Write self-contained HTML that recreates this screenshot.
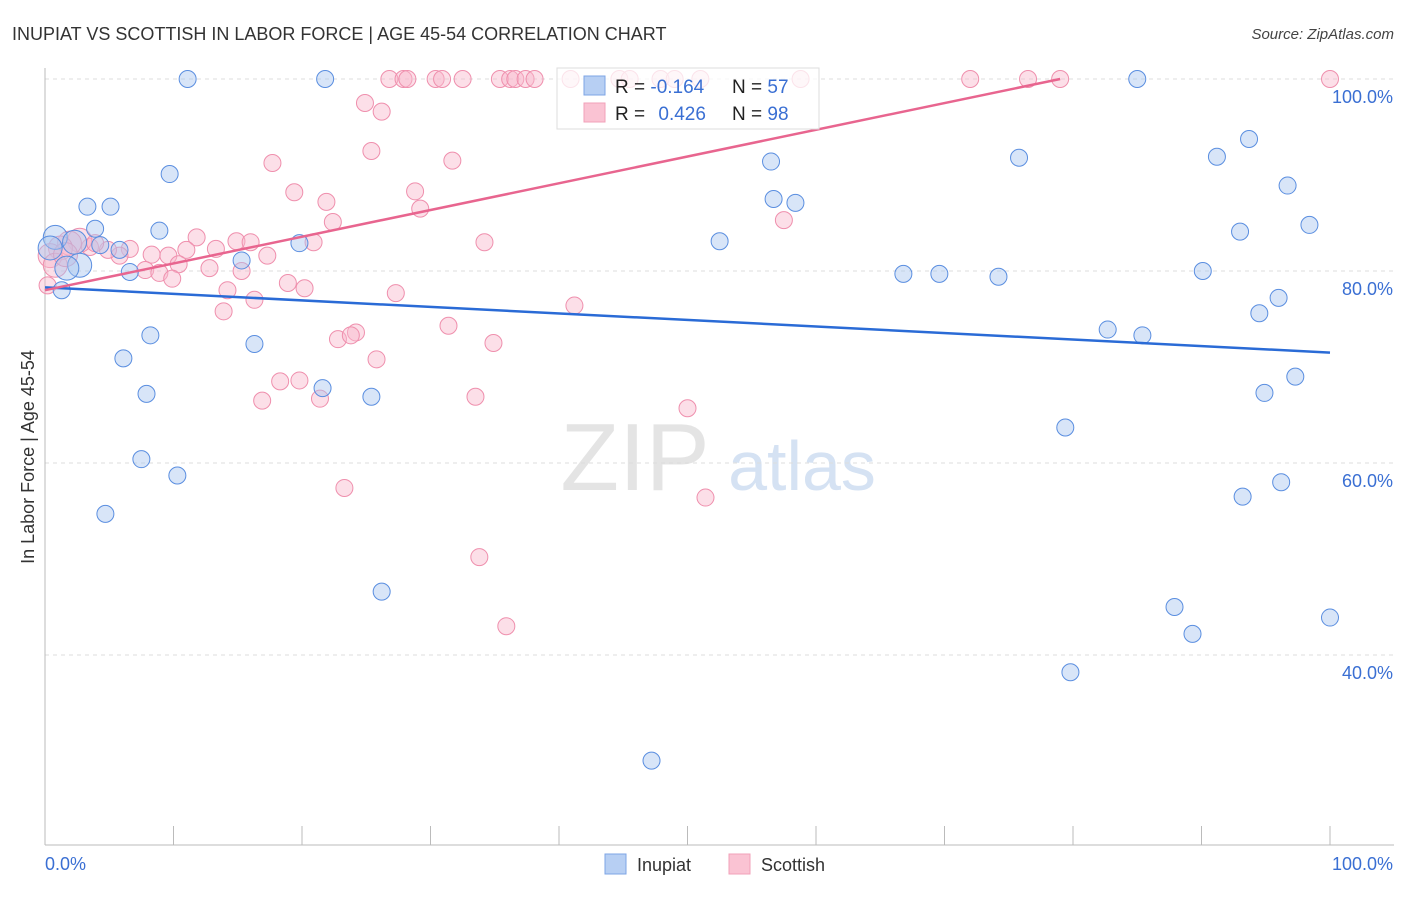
<!DOCTYPE html>
<html><head><meta charset="utf-8">
<style>
body{margin:0;background:#fff;font-family:"Liberation Sans",sans-serif;}
svg text{font-family:"Liberation Sans",sans-serif;}
</style></head>
<body>
<svg id="chart" width="1406" height="892" xmlns="http://www.w3.org/2000/svg">
<text x="12" y="40" font-size="18" fill="#333">INUPIAT VS SCOTTISH IN LABOR FORCE | AGE 45-54 CORRELATION CHART</text>
<text x="1394" y="39" font-size="15" fill="#444" text-anchor="end" font-style="italic">Source: ZipAtlas.com</text>
<text transform="translate(34,457) rotate(-90)" font-size="18" fill="#333" text-anchor="middle">In Labor Force | Age 45-54</text>
<g>
<text x="635" y="490" font-size="96" fill="#d9d9d9" text-anchor="middle" font-family="Liberation Serif" opacity="0.7">ZIP</text>
<text x="802" y="490" font-size="70" fill="#c4d6ee" text-anchor="middle" opacity="0.7">atlas</text>
</g>
<g id="grid"></g>
<g id="axes"></g>
<g id="pts"></g>
<g id="lines"></g>
<g>
<rect x="557" y="68" width="262" height="61" fill="#fff" fill-opacity="0.75" stroke="#ddd"/>
<rect x="584" y="76" width="21" height="19" fill="#b7cff3" stroke="#7ea4e6"/>
<rect x="584" y="103" width="21" height="19" fill="#fac3d3" stroke="#f2a0b8"/>
<text x="615" y="93" font-size="19" fill="#222">R = <tspan fill="#3a6fd3">-0.164</tspan></text>
<text x="732" y="93" font-size="19" fill="#222">N = <tspan fill="#3a6fd3">57</tspan></text>
<text x="615" y="120" font-size="19" fill="#222">R = <tspan fill="#3a6fd3" dx="8">0.426</tspan></text>
<text x="732" y="120" font-size="19" fill="#222">N = <tspan fill="#3a6fd3">98</tspan></text>
</g>
<g>
<rect x="605" y="854" width="21" height="20" fill="#b7cff3" stroke="#7ea4e6"/>
<text x="637" y="871" font-size="18" fill="#333">Inupiat</text>
<rect x="729" y="854" width="21" height="20" fill="#fac3d3" stroke="#f2a0b8"/>
<text x="761" y="871" font-size="18" fill="#333">Scottish</text>
</g>
</svg>
<script>
const yTicks=[100,80,60,40];
const yTickLabels=["100.0%","80.0%","60.0%","40.0%"];
const xTicks=[0,10,20,30,40,50,60,70,80,90,100];
const xEndLabels=["0.0%","100.0%"];
const inupiatX=[11.1,21.8,85.0,9.7,3.3,5.1,8.9,3.9,0.8,19.8,15.3,6.6,2.7,1.7,1.3,8.2,6.1,16.3,7.9,21.6,25.4,7.5,10.3,4.7,26.2,47.2,52.5,56.5,56.7,58.4,66.8,69.6,74.2,75.8,82.7,85.4,79.4,79.8,87.9,89.3,91.2,93.7,96.7,98.4,93.0,90.1,96.0,94.5,97.3,94.9,93.2,96.2,100,0.4,2.3,4.3,5.8];
const inupiatY=[100,100,100,90.1,86.7,86.7,84.2,84.4,83.5,82.9,81.1,79.9,80.6,80.3,78.0,73.3,70.9,72.4,67.2,67.8,66.9,60.4,58.7,54.7,46.6,29.0,83.1,91.4,87.5,87.1,79.7,79.7,79.4,91.8,73.9,73.3,63.7,38.2,45.0,42.2,91.9,93.75,88.9,84.8,84.1,80.0,77.2,75.6,69.0,67.3,56.5,58.0,43.9,82.4,83.0,82.7,82.2];
const scottishX=[26.8,27.9,28.2,30.4,30.9,32.5,35.4,36.2,36.6,37.4,38.1,40.9,44.7,45.5,47.9,49.0,51.0,58.8,72.0,76.5,79.0,100,24.9,26.2,25.4,17.7,31.7,19.4,28.8,21.9,29.2,22.4,57.5,20.9,34.2,11.8,14.9,16.0,13.3,11.0,9.6,8.3,17.3,6.6,5.8,4.9,3.5,2.7,1.9,1.2,0.4,0.8,7.8,8.9,10.4,12.8,15.3,9.9,14.2,16.3,18.9,20.2,27.3,13.9,41.2,31.4,24.2,22.8,23.8,34.9,25.8,18.3,19.8,16.9,21.4,33.5,50.0,23.3,51.4,33.8,35.9,0.2,1.6,3.9];
const scottishY=[100,100,100,100,100,100,100,100,100,100,100,100,100,100,100,100,100,100,100,100,100,100,97.5,96.6,92.5,91.25,91.5,88.2,88.3,87.2,86.5,85.1,85.3,83.0,83.0,83.5,83.1,83.0,82.3,82.2,81.6,81.7,81.6,82.3,81.6,82.2,82.5,83.2,82.9,82.4,81.6,80.6,80.1,79.8,80.7,80.3,80.0,79.2,78.0,77.0,78.75,78.2,77.7,75.8,76.4,74.3,73.6,72.9,73.3,72.5,70.8,68.5,68.6,66.5,66.7,66.9,65.7,57.4,56.4,50.2,43.0,78.5,81.7,82.9];
const inupiatTrend=[78.3,71.5];   // value at x=0, x=100
const scottishTrend=[78.0,100.0,79.0]; // value at x=0, value at x end, x end
const NS="http://www.w3.org/2000/svg";
const X=v=>45+v*12.85, Y=v=>79+(100-v)*9.6;
function mk(tag,attrs,parent){const e=document.createElementNS(NS,tag);for(const k in attrs)e.setAttribute(k,attrs[k]);parent.appendChild(e);return e;}
const grid=document.getElementById('grid'),axes=document.getElementById('axes'),pts=document.getElementById('pts'),lines=document.getElementById('lines');
yTicks.forEach((t,i)=>{
 const l=mk('line',{x1:45,x2:1394,y1:Y(t),y2:Y(t),stroke:'#ddd','stroke-dasharray':'4,4'},grid);
 
 
 const tx=mk('text',{x:1393,y:Y(t)+24,'font-size':18,fill:'#3a6fd3','text-anchor':'end'},axes);
 tx.textContent=yTickLabels[i];
 
 
});
const ax=mk('line',{x1:45,x2:45,y1:68,y2:845,stroke:'#bbb'},axes);


const bx=mk('line',{x1:45,x2:1394,y1:845,y2:845,stroke:'#bbb'},axes);


xTicks.forEach(t=>{
 const l=mk('line',{x1:X(t),x2:X(t),y1:826,y2:845,stroke:'#bbb'},axes);
 
 
});
const xl0=mk('text',{x:45,y:870,'font-size':18,fill:'#3a6fd3'},axes);xl0.textContent=xEndLabels[0];


const xl1=mk('text',{x:1393,y:870,'font-size':18,fill:'#3a6fd3','text-anchor':'end'},axes);xl1.textContent=xEndLabels[1];


function dots(xs,ys,fill,stroke,name){
 xs.forEach((x,i)=>{
  const big=x<3.5 && ys[i]>79 && ys[i]<84;
  const c=mk('circle',{cx:X(x),cy:Y(ys[i]),r:big?12:8.5,fill:fill,'fill-opacity':0.45,stroke:stroke,'stroke-width':1},pts);
  
  
 });
}
dots(scottishX,scottishY,'#f8b8cb','#ef8fad','scottish');
dots(inupiatX,inupiatY,'#a9c6f0','#5a8ee0','inupiat');
const bl=mk('line',{x1:X(0),y1:Y(inupiatTrend[0]),x2:X(100),y2:Y(inupiatTrend[1]),stroke:'#2a6bd6','stroke-width':2.5},lines);


const pl=mk('line',{x1:X(0),y1:Y(scottishTrend[0]),x2:X(scottishTrend[2]),y2:Y(scottishTrend[1]),stroke:'#e8658f','stroke-width':2.5},lines);


</script>
</body></html>
